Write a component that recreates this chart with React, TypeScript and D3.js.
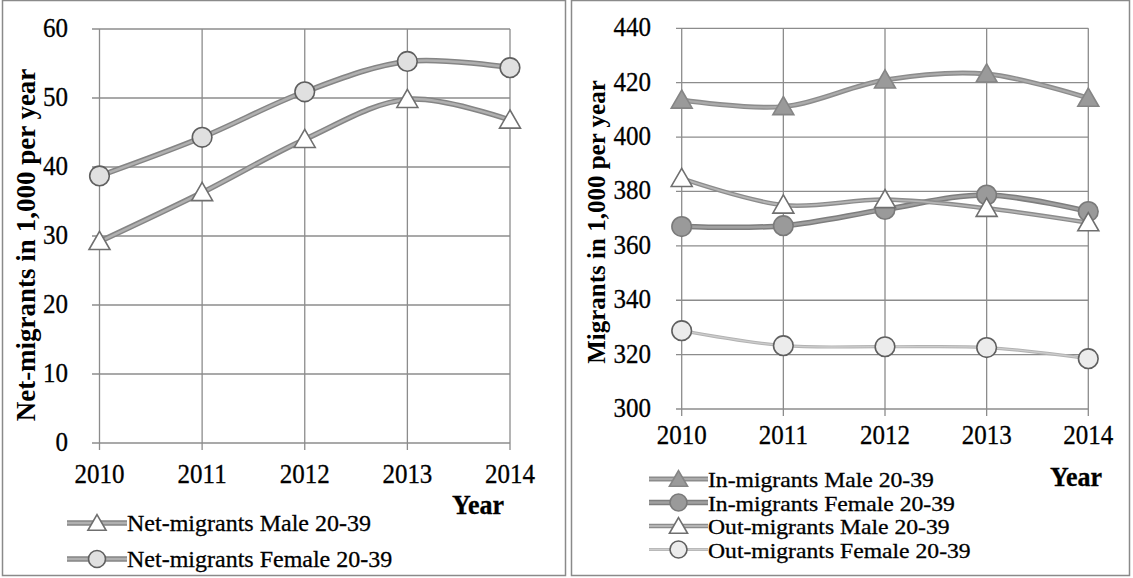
import React from "react";
import * as d3 from "d3";

const years = ["2010", "2011", "2012", "2013", "2014"];
const netMale = [29.2, 36.3, 44.0, 49.8, 46.8];
const netFemale = [38.7, 44.3, 50.9, 55.3, 54.4];
const inMale = [413.6, 411.2, 421.0, 423.2, 414.3];
const inFemale = [367.1, 367.4, 373.4, 378.7, 372.6];
const outMale = [384.8, 375.0, 377.0, 373.8, 368.5];
const outFemale = [328.8, 323.3, 322.9, 322.6, 318.5];
const leftTicks = [0, 10, 20, 30, 40, 50, 60];
const rightTicks = [300, 320, 340, 360, 380, 400, 420, 440];

type Series = {
  name: string;
  values: number[];
  shape: "triangle" | "circle";
  fill: string;
  stroke: string;
  lineOuter: string;
  lineInner: string;
  outerW: number;
  innerW: number;
};

const leftSeries: Series[] = [
  { name: "Net-migrants Male 20-39", values: netMale, shape: "triangle", fill: "#ffffff", stroke: "#6f6f6f", lineOuter: "#858585", lineInner: "#b0b0b0", outerW: 5.5, innerW: 2.5 },
  { name: "Net-migrants Female 20-39", values: netFemale, shape: "circle", fill: "#e0e0e0", stroke: "#5f5f5f", lineOuter: "#858585", lineInner: "#b0b0b0", outerW: 5.5, innerW: 2.5 },
];

const rightSeries: Series[] = [
  { name: "In-migrants Male 20-39", values: inMale, shape: "triangle", fill: "#9a9a9a", stroke: "#858585", lineOuter: "#8c8c8c", lineInner: "#ababab", outerW: 5, innerW: 2.2 },
  { name: "In-migrants Female 20-39", values: inFemale, shape: "circle", fill: "#9a9a9a", stroke: "#7a7a7a", lineOuter: "#7e7e7e", lineInner: "#a0a0a0", outerW: 5.5, innerW: 2.5 },
  { name: "Out-migrants Male 20-39", values: outMale, shape: "triangle", fill: "#ffffff", stroke: "#6f6f6f", lineOuter: "#8c8c8c", lineInner: "#b5b5b5", outerW: 4.5, innerW: 1.8 },
  { name: "Out-migrants Female 20-39", values: outFemale, shape: "circle", fill: "#ececec", stroke: "#5f5f5f", lineOuter: "#b2b2b2", lineInner: "#cdcdcd", outerW: 3.2, innerW: 1.3 },
];

const FONT = "'Liberation Serif', 'Times New Roman', serif";
const GRID = "#8c8c8c";

function Marker({ s, x, y, scale = 1 }: { s: Series; x: number; y: number; scale?: number }) {
  if (s.shape === "triangle") {
    const p = d3.symbol(d3.symbolTriangle, 190 * scale)();
    return <path d={p || ""} transform={`translate(${x},${y + 2})`} fill={s.fill} stroke={s.stroke} strokeWidth={1.6} />;
  }
  return <circle cx={x} cy={y} r={9.8 * Math.sqrt(scale)} fill={s.fill} stroke={s.stroke} strokeWidth={1.6} />;
}

function STxt({ x, y, children, size = 25, anchor = "middle", bold = false, sx = 1, sy = 1.08 }: any) {
  return (
    <text
      transform={`translate(${x},${y}) scale(${sx},${sy})`}
      fontFamily={FONT}
      fontSize={size}
      fontWeight={bold ? "bold" : "normal"}
      textAnchor={anchor}
      fill="#000"
      stroke="#000"
      strokeWidth={0.3}
    >
      {children}
    </text>
  );
}

type PanelProps = {
  series: Series[];
  ticks: number[];
  xRange: [number, number];
  yRange: [number, number];
  gridLeft: number;
  yLabelX: number;
  xLabelY: number;
  title: string;
  titleX: number;
  titleY: number;
  titleSize: number;
  yearX: number;
  yearY: number;
  legX0: number;
  legX1: number;
  legTextX: number;
  legBaselines: number[];
  legSize: number;
  legSx: number;
};

function Panel(p: PanelProps) {
  const x = d3.scalePoint<string>().domain(years).range(p.xRange);
  const y = d3.scaleLinear().domain([p.ticks[0], p.ticks[p.ticks.length - 1]]).range(p.yRange);
  const line = d3
    .line<number>()
    .x((_, i) => x(years[i]) as number)
    .y((v) => y(v))
    .curve(d3.curveCatmullRom.alpha(0.5));
  const bottom = y(p.ticks[0]);
  const top = y(p.ticks[p.ticks.length - 1]);
  return (
    <g>
      {p.ticks.map((t) => (
        <line key={"h" + t} x1={p.gridLeft} x2={p.xRange[1]} y1={y(t)} y2={y(t)} stroke={GRID} strokeWidth={1.3} />
      ))}
      {years.map((yr) => (
        <line key={"v" + yr} x1={x(yr)} x2={x(yr)} y1={top} y2={bottom + 7} stroke={GRID} strokeWidth={1.3} />
      ))}
      {p.ticks.map((t) => (
        <STxt key={"yl" + t} x={p.yLabelX} y={y(t) + 8} anchor="end">
          {t}
        </STxt>
      ))}
      {years.map((yr) => (
        <STxt key={"xl" + yr} x={x(yr)} y={p.xLabelY}>
          {yr}
        </STxt>
      ))}
      <text
        transform={`translate(${p.titleX},${p.titleY}) rotate(-90)`}
        fontFamily={FONT}
        fontSize={p.titleSize}
        fontWeight="bold"
        textAnchor="middle"
        fill="#000"
      >
        {p.title}
      </text>
      {p.series.map((s) => (
        <g key={s.name}>
          <path d={line(s.values) || ""} fill="none" stroke={s.lineOuter} strokeWidth={s.outerW} strokeLinejoin="round" />
          <path d={line(s.values) || ""} fill="none" stroke={s.lineInner} strokeWidth={s.innerW} strokeLinejoin="round" />
        </g>
      ))}
      {p.series.map((s) => (
        <g key={s.name + "m"}>
          {s.values.map((v, i) => (
            <Marker key={i} s={s} x={x(years[i]) as number} y={y(v)} />
          ))}
        </g>
      ))}
      <STxt x={p.yearX} y={p.yearY} bold size={26}>
        Year
      </STxt>
      {p.series.map((s, i) => {
        const cy = p.legBaselines[i] - 8;
        const mx = (p.legX0 + p.legX1) / 2;
        return (
          <g key={s.name + "l"}>
            <line x1={p.legX0} x2={p.legX1} y1={cy} y2={cy} stroke={s.lineOuter} strokeWidth={s.outerW} />
            <line x1={p.legX0} x2={p.legX1} y1={cy} y2={cy} stroke={s.lineInner} strokeWidth={s.innerW} />
            <Marker s={s} x={mx} y={cy} scale={0.75} />
            <STxt x={p.legTextX} y={p.legBaselines[i]} anchor="start" size={p.legSize} sx={p.legSx} sy={1}>
              {s.name}
            </STxt>
          </g>
        );
      })}
    </g>
  );
}

export default function App() {
  return (
    <div style={{ position: "fixed", left: 0, top: 0, background: "#fff" }}>
      <svg width={1133} height={578} style={{ display: "block", background: "#fff" }}>
        <rect x={2.5} y={0.5} width={563} height={575} fill="none" stroke="#8a8a8a" strokeWidth={1.5} />
        <rect x={571.5} y={0.5} width={558} height={575} fill="none" stroke="#8a8a8a" strokeWidth={1.5} />
        <Panel
          series={leftSeries}
          ticks={leftTicks}
          xRange={[99.5, 510]}
          yRange={[443, 29]}
          gridLeft={92}
          yLabelX={68}
          xLabelY={483}
          title="Net-migrants in 1,000 per year"
          titleX={35}
          titleY={245}
          titleSize={27}
          yearX={478}
          yearY={514}
          legX0={67}
          legX1={127}
          legTextX={127}
          legBaselines={[531, 567]}
          legSize={24}
          legSx={1}
        />
        <Panel
          series={rightSeries}
          ticks={rightTicks}
          xRange={[681.7, 1088.3]}
          yRange={[409, 28.3]}
          gridLeft={676}
          yLabelX={651}
          xLabelY={444}
          title="Migrants in 1,000 per year"
          titleX={605}
          titleY={222}
          titleSize={25}
          yearX={1076}
          yearY={486}
          legX0={649}
          legX1={708}
          legTextX={708}
          legBaselines={[487, 510.5, 534, 557.5]}
          legSize={21.5}
          legSx={1.1}
        />
      </svg>
    </div>
  );
}
